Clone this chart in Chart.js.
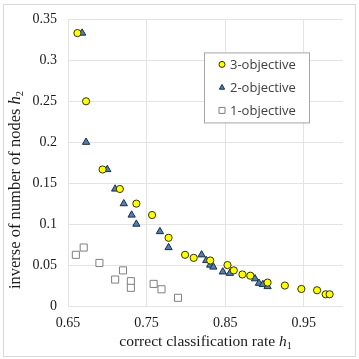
<!DOCTYPE html>
<html>
<head>
<meta charset="utf-8">
<script src="https://cdn.jsdelivr.net/npm/chart.js@4.4.0/dist/chart.umd.min.js"></script>
<style>
  html, body { margin: 0; padding: 0; background: #fff; }
  canvas { display: block; }
</style>
</head>
<body>
<canvas id="chart" width="359" height="359"></canvas>
<script>
// values (h1 = correct classification rate, h2 = inverse of number of nodes)
const obj3X = [0.662, 0.673, 0.694, 0.716, 0.737, 0.757, 0.778, 0.799, 0.810, 0.831,
               0.853, 0.861, 0.872, 0.882, 0.904, 0.926, 0.947, 0.967, 0.978, 0.983];
const obj3Y = [0.3333, 0.25, 0.1667, 0.1429, 0.125, 0.1111, 0.0833, 0.0625, 0.0588, 0.0556,
               0.05, 0.0435, 0.0385, 0.037, 0.0286, 0.025, 0.0208, 0.0192, 0.0143, 0.0143];

const obj2X = [0.668, 0.673, 0.700, 0.710, 0.721, 0.731, 0.737, 0.767, 0.778, 0.820,
               0.826, 0.831, 0.835, 0.847, 0.856, 0.888, 0.893, 0.898, 0.904];
const obj2Y = [0.3333, 0.2, 0.1667, 0.1429, 0.125, 0.1111, 0.1, 0.0909, 0.0714, 0.0625,
               0.0556, 0.05, 0.0476, 0.0417, 0.04, 0.0333, 0.0278, 0.0263, 0.0238];

const obj1X = [0.670, 0.660, 0.690, 0.720, 0.710, 0.730, 0.730, 0.759, 0.769, 0.790];
const obj1Y = [0.0714, 0.0625, 0.0526, 0.0435, 0.0323, 0.0303, 0.0222, 0.0270, 0.0204, 0.0100];

const seriesNames = ['3-objective', '2-objective', '1-objective'];

const xTicks = [0.65, 0.75, 0.85, 0.95];
const xTickLabels = ['0.65', '0.75', '0.85', '0.95'];
const yTicks = [0, 0.05, 0.1, 0.15, 0.2, 0.25, 0.3, 0.35];
const yTickLabels = ['0', '0.05', '0.1', '0.15', '0.2', '0.25', '0.3', '0.35'];

const SERIF = '"Liberation Serif", "Times New Roman", serif';

function pts(xs, ys) {
    return xs.map((x, i) => ({ x: x, y: ys[i] }));
}

const styles = [
    { pointStyle: 'circle', bg: '#ffff00', border: '#333300', r: 3.6 },
    { pointStyle: 'triangle', bg: '#4f7fb3', border: '#1b2d42', r: 4.2 },
    { pointStyle: 'rect', bg: '#ffffff', border: '#7f7f7f', r: 5 }
];

function marker(ctx, st, x, y, r) {
    ctx.save();
    ctx.fillStyle = st.bg;
    ctx.strokeStyle = st.border;
    ctx.lineWidth = 1;
    ctx.beginPath();
    if (st.pointStyle === 'circle') {
        ctx.arc(x, y, r, 0, Math.PI * 2);
    } else if (st.pointStyle === 'triangle') {
        ctx.moveTo(x, y - r);
        ctx.lineTo(x + r * 0.87, y + r * 0.6);
        ctx.lineTo(x - r * 0.87, y + r * 0.6);
        ctx.closePath();
    } else {
        ctx.rect(x - r, y - r, r * 2, r * 2);
    }
    ctx.fill();
    ctx.stroke();
    ctx.restore();
}

function richText(ctx, parts, cx, baseY) {
    let total = 0;
    parts.forEach(p => { ctx.font = p.font; p.w = ctx.measureText(p.t).width; total += p.w; });
    let x = cx - total / 2;
    parts.forEach(p => {
        ctx.font = p.font;
        ctx.fillText(p.t, x, baseY + (p.dy || 0));
        x += p.w;
    });
}

const decor = {
    id: 'decor',
    beforeDraw(chart) {
        const ctx = chart.ctx;
        ctx.save();
        ctx.strokeStyle = '#d9d9d9';
        ctx.lineWidth = 1;
        ctx.strokeRect(3.5, 4.5, 352, 352);
        ctx.restore();
    },
    afterDraw(chart) {
        const ctx = chart.ctx;
        const a = chart.chartArea;
        ctx.save();
        ctx.fillStyle = '#1a1a1a';
        ctx.textAlign = 'left';
        ctx.textBaseline = 'alphabetic';

        // x axis title
        richText(ctx, [
            { t: 'correct classification rate ', font: '15.5px ' + SERIF },
            { t: 'h', font: 'italic 15.5px ' + SERIF },
            { t: '1', font: '10px ' + SERIF, dy: 3 }
        ], (a.left + a.right) / 2, 346);

        // y axis title
        ctx.save();
        ctx.translate(20, 190);
        ctx.rotate(-Math.PI / 2);
        richText(ctx, [
            { t: 'inverse of number of nodes ', font: '16.5px ' + SERIF },
            { t: 'h', font: 'italic 16.5px ' + SERIF },
            { t: '2', font: '10.5px ' + SERIF, dy: 3 }
        ], 0, 0);
        ctx.restore();

        // legend box inside the plot
        const lx = a.left + 136, ly = a.top + 33;
        ctx.fillStyle = '#ffffff';
        ctx.fillRect(lx, ly, 105, 70);
        ctx.strokeStyle = '#a6a6a6';
        ctx.lineWidth = 1;
        ctx.strokeRect(lx + 0.5, ly + 0.5, 105, 70);
        ctx.font = '13px "Open Sans", sans-serif';
        ctx.textBaseline = 'middle';
        seriesNames.forEach((name, i) => {
            const y = ly + 12 + i * 23;
            marker(ctx, styles[i], lx + 18, y, 3);
            ctx.fillStyle = '#404040';
            ctx.fillText(name, lx + 26, y + 1);
        });
        ctx.restore();
    }
};

const datasets = [pts(obj3X, obj3Y), pts(obj2X, obj2Y), pts(obj1X, obj1Y)].map((d, i) => ({
    label: seriesNames[i],
    data: d,
    pointStyle: styles[i].pointStyle,
    pointRadius: styles[i].r,
    pointBackgroundColor: styles[i].bg,
    pointBorderColor: styles[i].border,
    pointBorderWidth: 1,
    showLine: false
}));

new Chart(document.getElementById('chart'), {
    type: 'scatter',
    data: { datasets: datasets },
    options: {
        responsive: false,
        animation: false,
        layout: { padding: { left: 0, top: 13, right: 16, bottom: 0 } },
        plugins: {
            legend: { display: false },
            tooltip: { enabled: false }
        },
        scales: {
            x: {
                type: 'linear',
                min: 0.65,
                max: 1.0,
                afterBuildTicks: s => { s.ticks = xTicks.map(v => ({ value: v })); },
                afterFit: s => { s.height = 53; },
                border: { display: false },
                grid: { color: '#e3e3e3', drawTicks: false },
                ticks: {
                    padding: 9,
                    color: '#1a1a1a',
                    font: { family: SERIF, size: 14 },
                    maxRotation: 0,
                    callback: (v, i) => xTickLabels[i]
                }
            },
            y: {
                type: 'linear',
                min: 0,
                max: 0.35,
                afterBuildTicks: s => { s.ticks = yTicks.map(v => ({ value: v })); },
                afterFit: s => { s.width = 68; },
                border: { display: false },
                grid: { color: '#e3e3e3', drawTicks: false },
                ticks: {
                    padding: 11,
                    color: '#1a1a1a',
                    font: { family: SERIF, size: 14 },
                    callback: (v, i) => yTickLabels[i]
                }
            }
        }
    },
    plugins: [decor]
});
</script>
</body>
</html>
